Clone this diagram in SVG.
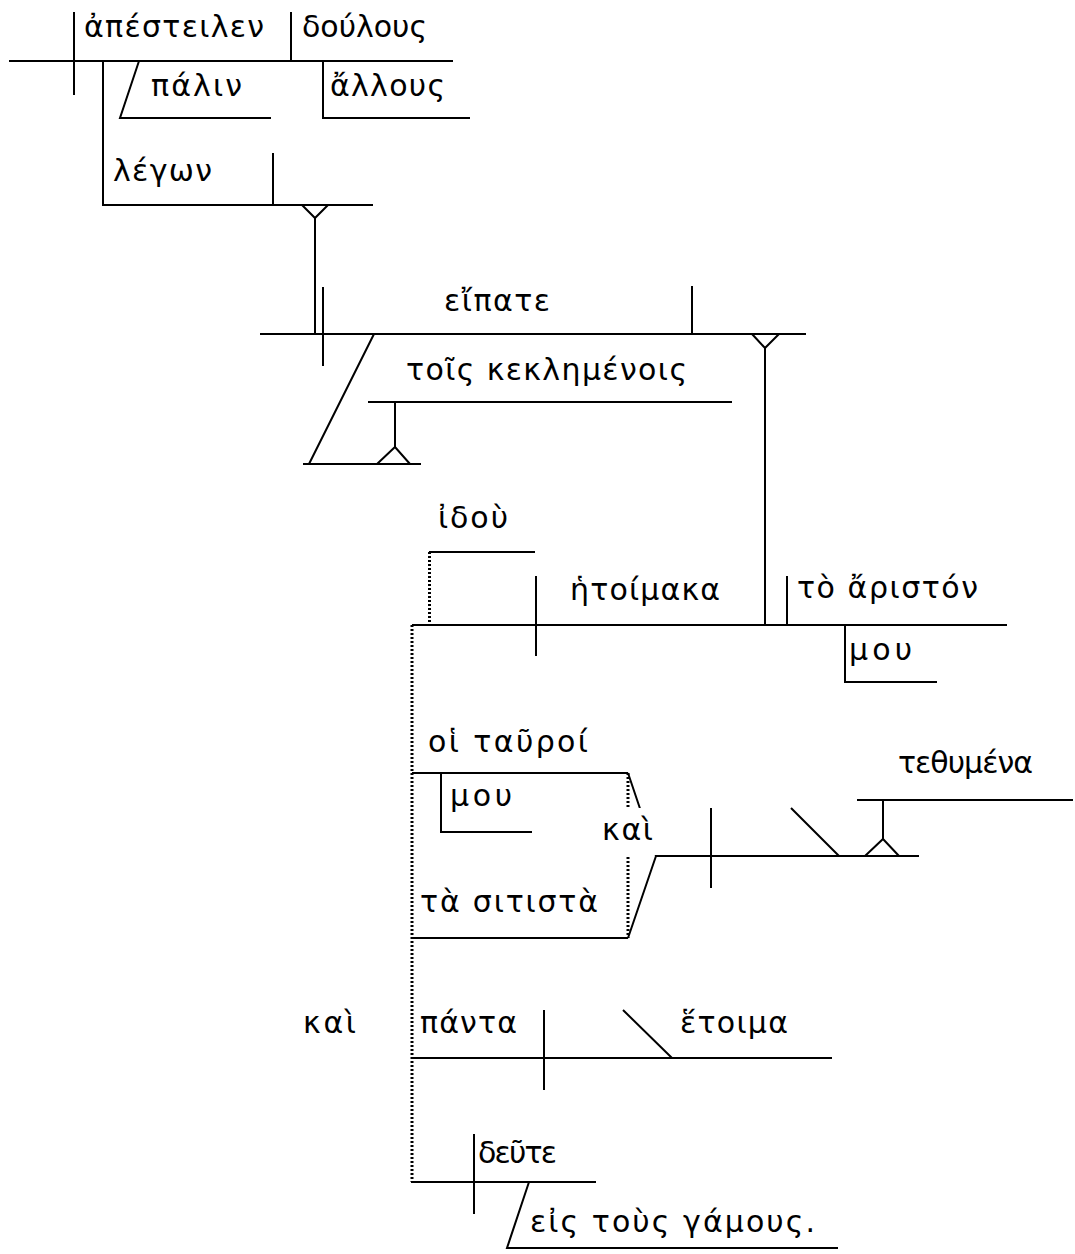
<svg xmlns="http://www.w3.org/2000/svg" width="1075" height="1254" viewBox="0 0 1075 1254">
<style>
  .ln{stroke:#000;stroke-width:2;fill:none;stroke-linecap:butt}
  .dot{stroke:#000;stroke-width:3;fill:none;stroke-dasharray:2 2}
  .t{font-family:"DejaVu Sans","Noto Sans",sans-serif;font-size:30px;fill:#000}
</style>
<rect width="1075" height="1254" fill="#fff"/>
<g id="connectors">
  <path class="ln" d="M302 205 L315 218 L328 205 M315 218 V334"/>
  <path class="ln" d="M752 334 L765 348 L779 334 M765 348 V625"/>
  <path class="ln" d="M377 464 L395 447 L410 464 M395 447 V402"/>
  <path class="ln" d="M865 856 L883 839 L899 856 M883 839 V800"/>
  <path class="dot" d="M429.5 552 V625"/>
  <path class="dot" d="M412 625 V1182"/>
  <path class="dot" d="M628 773 V938"/>
  <path class="ln" d="M628 773 L656 856 M628 938 L656 856"/>
</g>
<g id="clause1">
  <path class="ln" d="M9 61 H453 M74 12 V95 M291 12 V61"/>
  <text class="t" x="84" y="37" textLength="180" lengthAdjust="spacing">ἀπέστειλεν</text>
  <text class="t" x="302" y="37" textLength="125" lengthAdjust="spacing">δούλους</text>
</g>
<g id="palin">
  <path class="ln" d="M139 61 L120 118 H271"/>
  <text class="t" x="151" y="96" textLength="91" lengthAdjust="spacing">πάλιν</text>
</g>
<g id="allous">
  <path class="ln" d="M323 61 V118 H470"/>
  <text class="t" x="330" y="96" textLength="115" lengthAdjust="spacing">ἄλλους</text>
</g>
<g id="legon">
  <path class="ln" d="M103 61 V205 H373 M273 153 V205"/>
  <text class="t" x="113" y="181" textLength="99" lengthAdjust="spacing">λέγων</text>
</g>
<g id="eipate">
  <path class="ln" d="M260 334 H806 M323 287 V366 M692 286 V334"/>
  <text class="t" x="444" y="311" textLength="106" lengthAdjust="spacing">εἴπατε</text>
</g>
<g id="keklemenois">
  <path class="ln" d="M374 334 L309 464 M303 464 H421 M368 402 H732"/>
  <text class="t" x="406" y="380" textLength="281" lengthAdjust="spacing">τοῖς κεκλημένοις</text>
</g>
<g id="idou">
  <path class="ln" d="M429 552 H535"/>
  <text class="t" x="438" y="528" textLength="70" lengthAdjust="spacing">ἰδοὺ</text>
</g>
<g id="hetoimaka">
  <path class="ln" d="M412 625 H1007 M536 576 V656 M787 576 V625"/>
  <text class="t" x="570" y="600" textLength="150" lengthAdjust="spacing">ἡτοίμακα</text>
  <text class="t" x="797" y="598" textLength="181" lengthAdjust="spacing">τὸ ἄριστόν</text>
</g>
<g id="mou1">
  <path class="ln" d="M845 625 V682 H937"/>
  <text class="t" x="849" y="660" textLength="63" lengthAdjust="spacing">μου</text>
</g>
<g id="tauroi">
  <path class="ln" d="M412 773 H628"/>
  <text class="t" x="428" y="752" textLength="160" lengthAdjust="spacing">οἱ ταῦροί</text>
</g>
<g id="mou2">
  <path class="ln" d="M441 773 V832 H532"/>
  <text class="t" x="450" y="806" textLength="62" lengthAdjust="spacing">μου</text>
</g>
<g id="sitista">
  <path class="ln" d="M412 938 H628"/>
  <text class="t" x="420" y="912" textLength="178" lengthAdjust="spacing">τὰ σιτιστὰ</text>
</g>
<g id="kai1">
  <rect x="597" y="808" width="62" height="47" fill="#fff"/>
  <text class="t" x="602" y="840" textLength="51" lengthAdjust="spacing">καὶ</text>
</g>
<g id="tethumena">
  <path class="ln" d="M656 856 H919 M711 808 V888 M791 808 L839 856 M857 800 H1073"/>
  <text class="t" x="898" y="773" textLength="135" lengthAdjust="spacing">τεθυμένα</text>
</g>
<g id="kai2">
  <text class="t" x="303" y="1033" textLength="53" lengthAdjust="spacing">καὶ</text>
</g>
<g id="panta">
  <path class="ln" d="M411 1058 H832 M544 1010 V1090 M623 1010 L672 1058"/>
  <text class="t" x="420" y="1033" textLength="97" lengthAdjust="spacing">πάντα</text>
  <text class="t" x="680" y="1033" textLength="108" lengthAdjust="spacing">ἕτοιμα</text>
</g>
<g id="deute">
  <path class="ln" d="M411 1182 H596 M474 1134 V1214"/>
  <text class="t" x="478" y="1163" textLength="79" lengthAdjust="spacing">δεῦτε</text>
</g>
<g id="gamous">
  <path class="ln" d="M529 1182 L507 1248 H838"/>
  <text class="t" x="530" y="1232" textLength="285" lengthAdjust="spacing">εἰς τοὺς γάμους.</text>
</g>
</svg>
